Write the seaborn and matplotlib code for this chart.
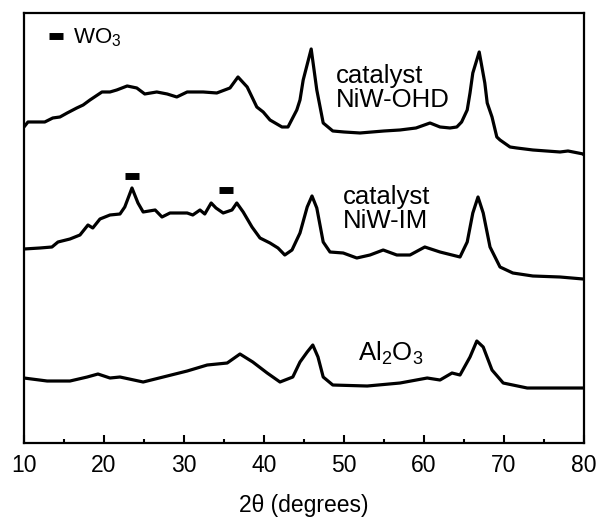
import matplotlib
matplotlib.use('Agg')
import matplotlib.pyplot as plt
from matplotlib.lines import Line2D
from matplotlib.ticker import MultipleLocator
import seaborn as sns
import pandas as pd

# XRD patterns, intensity in arbitrary units (curves already stacked)
ohd_2theta = [10.0, 10.5, 12.6, 13.6, 14.5, 15.4, 16.6, 17.4, 18.25, 19.75, 20.75, 21.6, 22.9,
              24.1, 25.1, 26.6, 27.9, 29.1, 30.4, 32.4, 34.1, 35.75, 36.75, 37.9, 39.1, 39.9,
              40.75, 42.25, 43.0, 44.1, 44.5, 44.9, 45.9, 46.6, 47.4, 48.6, 50.0, 52.0, 55.0,
              57.0, 59.0, 60.75, 62.0, 63.25, 64.1, 64.7, 65.4, 65.75, 66.1, 66.9, 67.6, 67.9,
              68.5, 69.1, 69.5, 70.75, 71.6, 73.6, 77.0, 78.0, 79.9, 80.0]
ohd_int = [316, 321, 321, 325, 326, 330, 335, 338, 343, 351, 351, 353, 357,
           355, 349, 351, 349, 346, 351, 351, 350, 355, 366, 356, 336, 331,
           323, 316, 316, 333, 343, 363, 394, 353, 320, 312, 311, 310, 312,
           313, 315, 320, 316, 315, 316, 321, 333, 350, 370, 391, 360, 340,
           326, 306, 303, 296, 295, 293, 291, 292, 289, 288]

im_2theta = [10.0, 12.0, 13.5, 14.25, 15.75, 17.0, 18.0, 18.6, 19.5, 20.75, 22.0, 22.6, 23.5,
             24.25, 24.9, 26.4, 27.25, 28.25, 30.4, 31.1, 32.0, 32.6, 33.4, 34.0, 34.9, 36.0,
             36.6, 37.4, 38.5, 39.5, 40.75, 41.75, 42.6, 43.5, 44.5, 45.4, 46.0, 46.6, 47.4,
             48.25, 49.9, 51.6, 53.25, 54.9, 56.6, 58.25, 60.1, 62.0, 64.5, 65.4, 66.1, 66.75,
             67.4, 68.25, 69.5, 71.1, 73.6, 77.0, 79.9, 80.0]
im_int = [194, 195, 196, 201, 204, 208, 218, 215, 224, 228, 229, 236, 255,
          240, 231, 233, 226, 230, 230, 228, 233, 229, 240, 235, 230, 233,
          240, 231, 216, 205, 200, 195, 188, 193, 210, 236, 247, 235, 201,
          191, 190, 185, 188, 193, 188, 188, 196, 191, 186, 201, 230, 246,
          230, 196, 176, 170, 167, 166, 164, 164]

al_2theta = [10.0, 12.9, 15.75, 17.9, 19.25, 20.75, 22.0, 24.9, 27.4, 30.4, 32.9, 35.4, 37.0,
             38.6, 40.4, 42.0, 43.6, 44.5, 45.4, 46.1, 46.75, 47.4, 48.6, 52.9, 57.0, 60.4,
             62.0, 63.5, 64.5, 65.75, 66.6, 67.4, 68.5, 69.9, 72.9, 77.0, 80.0]
al_int = [65, 62, 62, 66, 69, 65, 66, 61, 66, 72, 78, 80, 89,
          81, 70, 61, 66, 81, 91, 98, 86, 66, 58, 57, 60, 65,
          63, 70, 68, 86, 102, 96, 73, 60, 55, 55, 55]

# WO3 reflections marked on the NiW-IM pattern
wo3_2theta = [23.5, 35.2]
wo3_int = [267, 253]

labels = ['catalyst\nNiW-OHD', 'catalyst\nNiW-IM', 'Al$_2$O$_3$']
label_pos = [(49.0, 355), (49.9, 234), (51.75, 90)]

sns.set_style('ticks')
plt.rcParams['font.family'] = ['Liberation Sans', 'DejaVu Sans']
plt.rcParams['mathtext.fontset'] = 'custom'
plt.rcParams['mathtext.rm'] = 'Liberation Sans'
plt.rcParams['mathtext.it'] = 'Liberation Sans:italic'
plt.rcParams['text.color'] = 'black'
plt.rcParams['axes.labelcolor'] = 'black'
plt.rcParams['axes.edgecolor'] = 'black'
plt.rcParams['xtick.color'] = 'black'
plt.rcParams['ytick.color'] = 'black'

fig = plt.figure(figsize=(5.99, 5.19), dpi=100)
ax = fig.add_axes([0.040, 0.1464, 0.935, 0.8286])

for xs, ys in [(ohd_2theta, ohd_int), (im_2theta, im_int), (al_2theta, al_int)]:
    df = pd.DataFrame({'2theta': xs, 'intensity': ys})
    sns.lineplot(data=df, x='2theta', y='intensity', ax=ax, color='black',
                 linewidth=2.3, estimator=None, legend=False)

ax.plot(wo3_2theta, wo3_int, linestyle='none', marker='_', markersize=10.5,
        markeredgewidth=5, color='black')

for (lx, ly), txt in zip(label_pos, labels):
    ax.text(lx, ly, txt, fontsize=18.5, ha='left', va='center', linespacing=1.0)

wo3_handle = Line2D([], [], linestyle='none', marker='_', markersize=10,
                    markeredgewidth=5, color='black')
ax.legend([wo3_handle], ['WO$_3$'], loc='center left', frameon=False,
          fontsize=16, handlelength=0.65, handletextpad=0.45,
          borderaxespad=0, borderpad=0, bbox_to_anchor=(0.0446, 0.942))

ax.set_xlim(10, 80)
ax.set_ylim(0, 430)
ax.set_yticks([])
ax.xaxis.set_major_locator(MultipleLocator(10))
ax.xaxis.set_minor_locator(MultipleLocator(5))
ax.tick_params(axis='x', which='major', direction='in', length=6, width=1.5,
               labelsize=16.5, pad=8, top=False)
ax.tick_params(axis='x', which='minor', direction='in', length=3, width=1.5, top=False)
for sp in ax.spines.values():
    sp.set_linewidth(1.6)
    sp.set_visible(True)

ax.set_xlabel('2\u03b8 (degrees)', fontsize=16.5, labelpad=12)
ax.set_ylabel('')

plt.savefig('out.png', dpi=100)
